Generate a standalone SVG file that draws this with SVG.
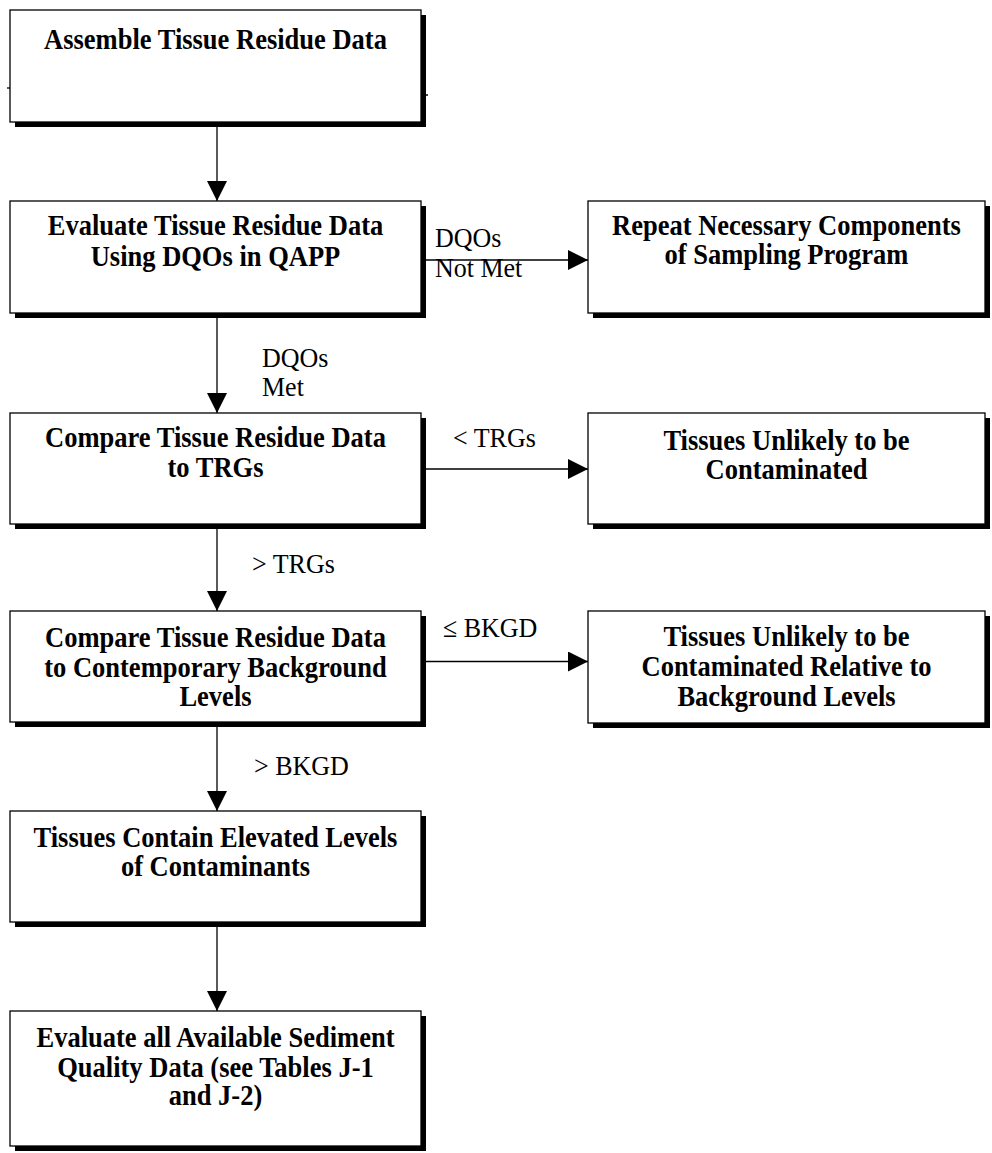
<svg xmlns="http://www.w3.org/2000/svg" width="992" height="1153" viewBox="0 0 992 1153">
  <style>
    .shadow { fill: #000; }
    .box { fill: #fff; stroke: #000; stroke-width: 1.3; }
    .title { font-family: "Liberation Serif", "Times New Roman", serif; font-weight: bold; font-size: 26.5px; fill: #000; text-anchor: middle; }
    .label { font-family: "Liberation Serif", "Times New Roman", serif; font-size: 26px; fill: #000; }
    .wire { stroke: #000; stroke-width: 1.3; fill: none; }
    .head { fill: #000; stroke: none; }
  </style>
  <defs>
    <marker id="arrow" markerUnits="userSpaceOnUse" markerWidth="20" markerHeight="20" viewBox="0 0 20 20" refX="20" refY="10" orient="auto">
      <path class="head" d="M0,0 L20,10 L0,20 Z"/>
    </marker>
  </defs>
  <rect width="992" height="1153" fill="#fff"/>

  <!-- connectors; text is stretched 8% vertically about its baseline -->
  <g id="connectors">
    <line class="wire" x1="217" y1="122" x2="217" y2="201" marker-end="url(#arrow)"/>
    <line class="wire" x1="217" y1="313" x2="217" y2="413" marker-end="url(#arrow)"/>
    <line class="wire" x1="217" y1="524" x2="217" y2="611" marker-end="url(#arrow)"/>
    <line class="wire" x1="217" y1="722" x2="217" y2="811" marker-end="url(#arrow)"/>
    <line class="wire" x1="217" y1="922" x2="217" y2="1011" marker-end="url(#arrow)"/>
    <line class="wire" x1="421" y1="260" x2="588" y2="260" marker-end="url(#arrow)"/>
    <line class="wire" x1="421" y1="469" x2="588" y2="469" marker-end="url(#arrow)"/>
    <line class="wire" x1="421" y1="661.5" x2="588" y2="661.5" marker-end="url(#arrow)"/>
    <!-- edge labels -->
    <text class="label" x="435" y="247" transform="matrix(1 0 0 1.08 0 -19.76)">DQOs</text>
    <text class="label" x="435" y="277" transform="matrix(1 0 0 1.08 0 -22.16)">Not Met</text>
    <text class="label" x="262" y="367" transform="matrix(1 0 0 1.08 0 -29.36)">DQOs</text>
    <text class="label" x="262" y="396" transform="matrix(1 0 0 1.08 0 -31.68)">Met</text>
    <text class="label" x="453" y="447" transform="matrix(1 0 0 1.08 0 -35.76)">&lt; TRGs</text>
    <text class="label" x="252" y="573" transform="matrix(1 0 0 1.08 0 -45.84)">&gt; TRGs</text>
    <text class="label" x="443" y="637" transform="matrix(1 0 0 1.08 0 -50.96)">≤ BKGD</text>
    <text class="label" x="254" y="775" transform="matrix(1 0 0 1.08 0 -62)">&gt; BKGD</text>
  </g>

  <!-- nodes -->
  <g id="assemble">
    <rect class="shadow" x="15" y="15" width="411" height="112"/>
    <rect class="box" x="10" y="10" width="411" height="112"/>
    <line class="wire" x1="7" y1="88" x2="10" y2="88"/>
    <line class="wire" x1="426" y1="95" x2="428" y2="95"/>
    <text class="title" x="215.5" y="49" transform="matrix(1 0 0 1.08 0 -3.92)">Assemble Tissue Residue Data</text>
  </g>

  <g id="evaluate-dqo">
    <rect class="shadow" x="15" y="206" width="411" height="112"/>
    <rect class="box" x="10" y="201" width="411" height="112"/>
    <text class="title" x="215.5" y="235" transform="matrix(1 0 0 1.08 0 -18.8)">Evaluate Tissue Residue Data</text>
    <text class="title" x="215.5" y="266" transform="matrix(1 0 0 1.08 0 -21.28)">Using DQOs in QAPP</text>
  </g>

  <g id="repeat-sampling">
    <rect class="shadow" x="593" y="206" width="397" height="112"/>
    <rect class="box" x="588" y="201" width="397" height="112"/>
    <text class="title" x="786.5" y="235" transform="matrix(1 0 0 1.08 0 -18.8)">Repeat Necessary Components</text>
    <text class="title" x="786.5" y="264" transform="matrix(1 0 0 1.08 0 -21.12)">of Sampling Program</text>
  </g>

  <g id="compare-trg">
    <rect class="shadow" x="15" y="418" width="411" height="111"/>
    <rect class="box" x="10" y="413" width="411" height="111"/>
    <text class="title" x="215.5" y="447" transform="matrix(1 0 0 1.08 0 -35.76)">Compare Tissue Residue Data</text>
    <text class="title" x="215.5" y="477" transform="matrix(1 0 0 1.08 0 -38.16)">to TRGs</text>
  </g>

  <g id="unlikely-contaminated">
    <rect class="shadow" x="593" y="418" width="397" height="111"/>
    <rect class="box" x="588" y="413" width="397" height="111"/>
    <text class="title" x="786.5" y="450" transform="matrix(1 0 0 1.08 0 -36)">Tissues Unlikely to be</text>
    <text class="title" x="786.5" y="479" transform="matrix(1 0 0 1.08 0 -38.32)">Contaminated</text>
  </g>

  <g id="compare-background">
    <rect class="shadow" x="15" y="616" width="411" height="111"/>
    <rect class="box" x="10" y="611" width="411" height="111"/>
    <text class="title" x="215.5" y="647" transform="matrix(1 0 0 1.08 0 -51.76)">Compare Tissue Residue Data</text>
    <text class="title" x="215.5" y="677" transform="matrix(1 0 0 1.08 0 -54.16)">to Contemporary Background</text>
    <text class="title" x="215.5" y="706" transform="matrix(1 0 0 1.08 0 -56.48)">Levels</text>
  </g>

  <g id="unlikely-relative-background">
    <rect class="shadow" x="593" y="616" width="397" height="112"/>
    <rect class="box" x="588" y="611" width="397" height="112"/>
    <text class="title" x="786.5" y="646" transform="matrix(1 0 0 1.08 0 -51.68)">Tissues Unlikely to be</text>
    <text class="title" x="786.5" y="676" transform="matrix(1 0 0 1.08 0 -54.08)">Contaminated Relative to</text>
    <text class="title" x="786.5" y="706" transform="matrix(1 0 0 1.08 0 -56.48)">Background Levels</text>
  </g>

  <g id="elevated-levels">
    <rect class="shadow" x="15" y="816" width="411" height="111"/>
    <rect class="box" x="10" y="811" width="411" height="111"/>
    <text class="title" x="215.5" y="847" transform="matrix(1 0 0 1.08 0 -67.76)">Tissues Contain Elevated Levels</text>
    <text class="title" x="215.5" y="876" transform="matrix(1 0 0 1.08 0 -70.08)">of Contaminants</text>
  </g>

  <g id="evaluate-sediment">
    <rect class="shadow" x="15" y="1016" width="411" height="135"/>
    <rect class="box" x="10" y="1011" width="411" height="135"/>
    <text class="title" x="215.5" y="1047" transform="matrix(1 0 0 1.08 0 -83.76)">Evaluate all Available Sediment</text>
    <text class="title" x="215.5" y="1077" transform="matrix(1 0 0 1.08 0 -86.16)">Quality Data (see Tables J-1</text>
    <text class="title" x="215.5" y="1105" transform="matrix(1 0 0 1.08 0 -88.4)">and J-2)</text>
  </g>
</svg>
